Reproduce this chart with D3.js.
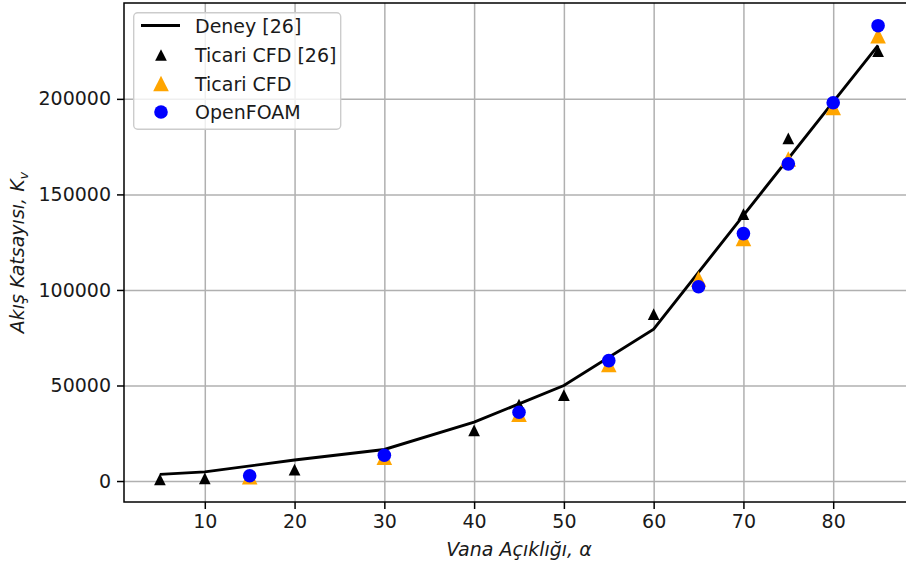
<!DOCTYPE html>
<html>
<head>
<meta charset="utf-8">
<script src="https://d3js.org/d3.v7.min.js"></script>
<style>
body { margin: 0; background: #fff; }
text { font-family: "DejaVu Sans", sans-serif; fill: #1a1a1a; }
</style>
</head>
<body>
<svg id="chart" width="906" height="568"></svg>
<script>
// Deney [26] (line)
var deneyAlpha = [5, 10, 20, 30, 40, 50, 60, 70, 80, 85]
var deneyKv = [3500, 4800, 11000, 16500, 30800, 50000, 79500, 139000, 198400, 228000]
// Ticari CFD [26] (black triangles)
var ticari26Alpha = [5, 10, 20, 40, 45, 50, 60, 70, 75, 85]
var ticari26Kv = [900, 1400, 6000, 26500, 40000, 45000, 87300, 139700, 179300, 225000]
// Ticari CFD (orange triangles)
var ticariAlpha = [15, 30, 45, 55, 65, 70, 75, 80, 85]
var ticariKv = [2300, 12500, 35000, 61000, 105800, 127000, 168500, 195500, 233000]
// OpenFOAM (blue circles)
var foamAlpha = [15, 30, 45, 55, 65, 70, 75, 80, 85]
var foamKv = [2800, 13500, 36000, 63000, 101700, 129500, 166000, 198000, 238300]

var xTicks = [10, 20, 30, 40, 50, 60, 70, 80]
var yTicks = [0, 50000, 100000, 150000, 200000]
var legendLabels = ["Deney [26]", "Ticari CFD [26]", "Ticari CFD", "OpenFOAM"]

var plotLeft = 124, plotRight = 914, plotTop = 3, plotBottom = 502
var fs = 19

var svg = d3.select("#chart")

// matplotlib-like 5% margins
var allX = deneyAlpha.concat(ticari26Alpha, ticariAlpha, foamAlpha)
var allY = deneyKv.concat(ticari26Kv, ticariKv, foamKv)
var xe = d3.extent(allX), ye = d3.extent(allY)
var xPad = (xe[1] - xe[0]) * 0.05, yPad = (ye[1] - ye[0]) * 0.05
var xScale = d3.scaleLinear().domain([xe[0] - xPad, xe[1] + xPad]).range([plotLeft, plotRight])
var yScale = d3.scaleLinear().domain([ye[0] - yPad, ye[1] + yPad]).range([plotBottom, plotTop])

// grid
svg.append("g").attr("class", "grid").attr("transform", "translate(0," + plotBottom + ")")
  .call(d3.axisBottom(xScale).tickValues(xTicks).tickSize(-(plotBottom - plotTop)).tickFormat(""))
svg.append("g").attr("class", "grid").attr("transform", "translate(" + plotLeft + ",0)")
  .call(d3.axisLeft(yScale).tickValues(yTicks).tickSize(-(plotRight - plotLeft)).tickFormat(""))
svg.selectAll(".grid .domain").remove()
svg.selectAll(".grid line").attr("stroke", "#b0b0b0").attr("stroke-width", 1.5)

// data
var deney = deneyAlpha.map(function(a, i){ return [a, deneyKv[i]] })
svg.append("path").datum(deney)
  .attr("fill", "none").attr("stroke", "black").attr("stroke-width", 2.9)
  .attr("d", d3.line().x(function(d){ return xScale(d[0]) }).y(function(d){ return yScale(d[1]) }))

function tri(s){
  var h = s / 2
  return "M0," + (-h) + "L" + h + "," + h + "L" + (-h) + "," + h + "Z"
}

svg.append("g").selectAll("path").data(ticari26Alpha).enter().append("path")
  .attr("d", tri(11.7)).attr("fill", "black")
  .attr("transform", function(d, i){ return "translate(" + xScale(d) + "," + yScale(ticari26Kv[i]) + ")" })
svg.append("g").selectAll("path").data(ticariAlpha).enter().append("path")
  .attr("d", tri(15.6)).attr("fill", "orange")
  .attr("transform", function(d, i){ return "translate(" + xScale(d) + "," + yScale(ticariKv[i]) + ")" })
svg.append("g").selectAll("circle").data(foamAlpha).enter().append("circle")
  .attr("cx", function(d){ return xScale(d) }).attr("cy", function(d, i){ return yScale(foamKv[i]) })
  .attr("r", 6.8).attr("fill", "blue")

// frame
svg.append("rect").attr("x", plotLeft).attr("y", plotTop)
  .attr("width", plotRight - plotLeft).attr("height", plotBottom - plotTop)
  .attr("fill", "none").attr("stroke", "black").attr("stroke-width", 1.5)

// axes
var xAxis = svg.append("g").attr("transform", "translate(0," + plotBottom + ")")
  .call(d3.axisBottom(xScale).tickValues(xTicks).tickSize(7).tickPadding(6))
var yAxis = svg.append("g").attr("transform", "translate(" + plotLeft + ",0)")
  .call(d3.axisLeft(yScale).tickValues(yTicks).tickSize(7).tickPadding(6).tickFormat(d3.format("d")))
svg.selectAll(".domain").remove()
;[xAxis, yAxis].forEach(function(g){
  g.attr("font-size", fs).attr("font-family", "DejaVu Sans")
  g.selectAll("line").attr("stroke", "black").attr("stroke-width", 1.5)
  g.selectAll("text").attr("fill", "#1a1a1a")
})

// axis labels
svg.append("text").attr("x", (plotLeft + plotRight) / 2).attr("y", 556)
  .attr("text-anchor", "middle").attr("font-size", fs).attr("font-style", "italic")
  .text("Vana Açıklığı, α")
var yl = svg.append("text").attr("transform", "translate(24," + (plotTop + plotBottom) / 2 + ") rotate(-90)")
  .attr("text-anchor", "middle").attr("font-size", fs).attr("font-style", "italic")
yl.append("tspan").text("Akış Katsayısı, K")
yl.append("tspan").attr("font-size", 13).attr("dy", 4).text("v")

// legend
var lg = svg.append("g")
lg.append("rect").attr("x", 133.7).attr("y", 12.7).attr("width", 207).attr("height", 116.6)
  .attr("rx", 4).attr("fill", "white").attr("fill-opacity", 0.8)
  .attr("stroke", "#cccccc").attr("stroke-width", 1.4)
var rowY = [25.5, 55, 83.5, 112]
lg.append("line").attr("x1", 141).attr("x2", 180).attr("y1", rowY[0]).attr("y2", rowY[0])
  .attr("stroke", "black").attr("stroke-width", 2.9)
lg.append("path").attr("d", tri(11.7)).attr("fill", "black").attr("transform", "translate(161," + rowY[1] + ")")
lg.append("path").attr("d", tri(15.6)).attr("fill", "orange").attr("transform", "translate(161," + rowY[2] + ")")
lg.append("circle").attr("cx", 161).attr("cy", rowY[3]).attr("r", 6.8).attr("fill", "blue")
lg.selectAll("text").data(legendLabels).enter().append("text")
  .attr("x", 195).attr("y", function(d, i){ return rowY[i] + 7 })
  .attr("font-size", fs).text(function(d){ return d })
</script>
</body>
</html>
